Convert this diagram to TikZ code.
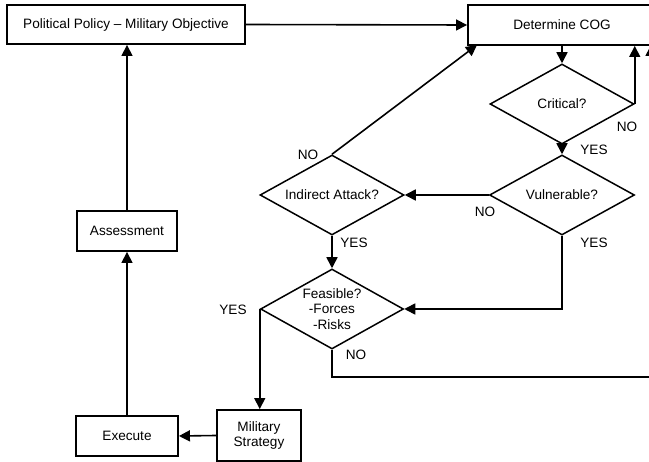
\documentclass[tikz,border=0pt]{standalone}
\usepackage{fontspec}
\setmainfont{Liberation Sans}
\usetikzlibrary{shapes.geometric,arrows.meta}
\begin{document}
\begin{tikzpicture}[x=1pt,y=-1pt,
  box/.style={draw,line width=1.9pt,inner sep=0pt,align=center,font=\fontsize{13.6}{15.5}\selectfont},
  dia/.style={draw,line width=1.5pt,diamond,aspect=1.8,inner sep=0pt,align=center,font=\fontsize{13.6}{15.5}\selectfont},
  lbl/.style={inner sep=0pt,font=\fontsize{13.6}{15}\selectfont},
  conn/.style={line width=1.6pt},
  arr/.style={conn,-{Triangle[length=11pt,width=11pt]}}]
\clip (0,0) rectangle (649,462);
\useasboundingbox (0,0) rectangle (649,462);
\fill[white] (0,0) rectangle (649,462);
% boxes
\node[box,minimum width=238pt,minimum height=39pt] (pp) at (126,24.5) {Political Policy -- Military Objective};
\node[box,minimum width=188pt,minimum height=40pt] (dc) at (562,25) {Determine COG};
\node[box,minimum width=100pt,minimum height=40pt] (as) at (127,231) {Assessment};
\node[box,minimum width=102pt,minimum height=40pt] (ex) at (127,436) {Execute};
\node[box,minimum width=84pt,minimum height=51pt] (ms) at (259,435.5) {Military\\Strategy};
% diamonds
\node[dia,minimum width=144pt,minimum height=80pt] (cr) at (562,104) {Critical?};
\node[dia,minimum width=145pt,minimum height=80pt] (vu) at (562,195) {Vulnerable?};
\node[dia,minimum width=144pt,minimum height=80pt] (ia) at (332,195) {Indirect Attack?};
\node[dia,minimum width=143pt,minimum height=80pt] (fe) at (332,309) {Feasible?\\-Forces\\-Risks};
% coordinates
\coordinate (dcin) at (477,45);
\coordinate (rb) at (651,377);
\coordinate (rt) at (651,45);
% connectors
\draw[arr] (pp.east) -- (dc.west);
\draw[arr] (dc.south) -- (cr.north);
\draw[arr] (cr.east) -- (cr.east |- dc.south);
\draw[arr] (cr.south) -- (vu.north);
\draw[arr] (vu.west) -- (ia.east);
\draw[arr] (ia.north) -- (dcin);
\draw[arr] (ia.south) -- (fe.north);
\draw[arr] (vu.south) -- (vu.south |- fe.east) -- (fe.east);
\draw[arr] (fe.south) -- (fe.south |- rb) -- (rb) -- (rt);
\draw[arr] (fe.west) -- (fe.west |- ms.north);
\draw[arr] (ms.west) -- (ex.east);
\draw[arr] (ex.north) -- (as.south);
\draw[arr] (as.north) -- (as.north |- pp.south);
% labels
\node[lbl] (l1) at (627,127) {NO};
\node[lbl] (l2) at (594,150) {YES};
\node[lbl] (l3) at (485,212) {NO};
\node[lbl] (l4) at (308,155) {NO};
\node[lbl] (l5) at (354,243) {YES};
\node[lbl] (l6) at (594,243) {YES};
\node[lbl] (l7) at (233,310) {YES};
\node[lbl] (l8) at (356,355) {NO};
\end{tikzpicture}
\end{document}
